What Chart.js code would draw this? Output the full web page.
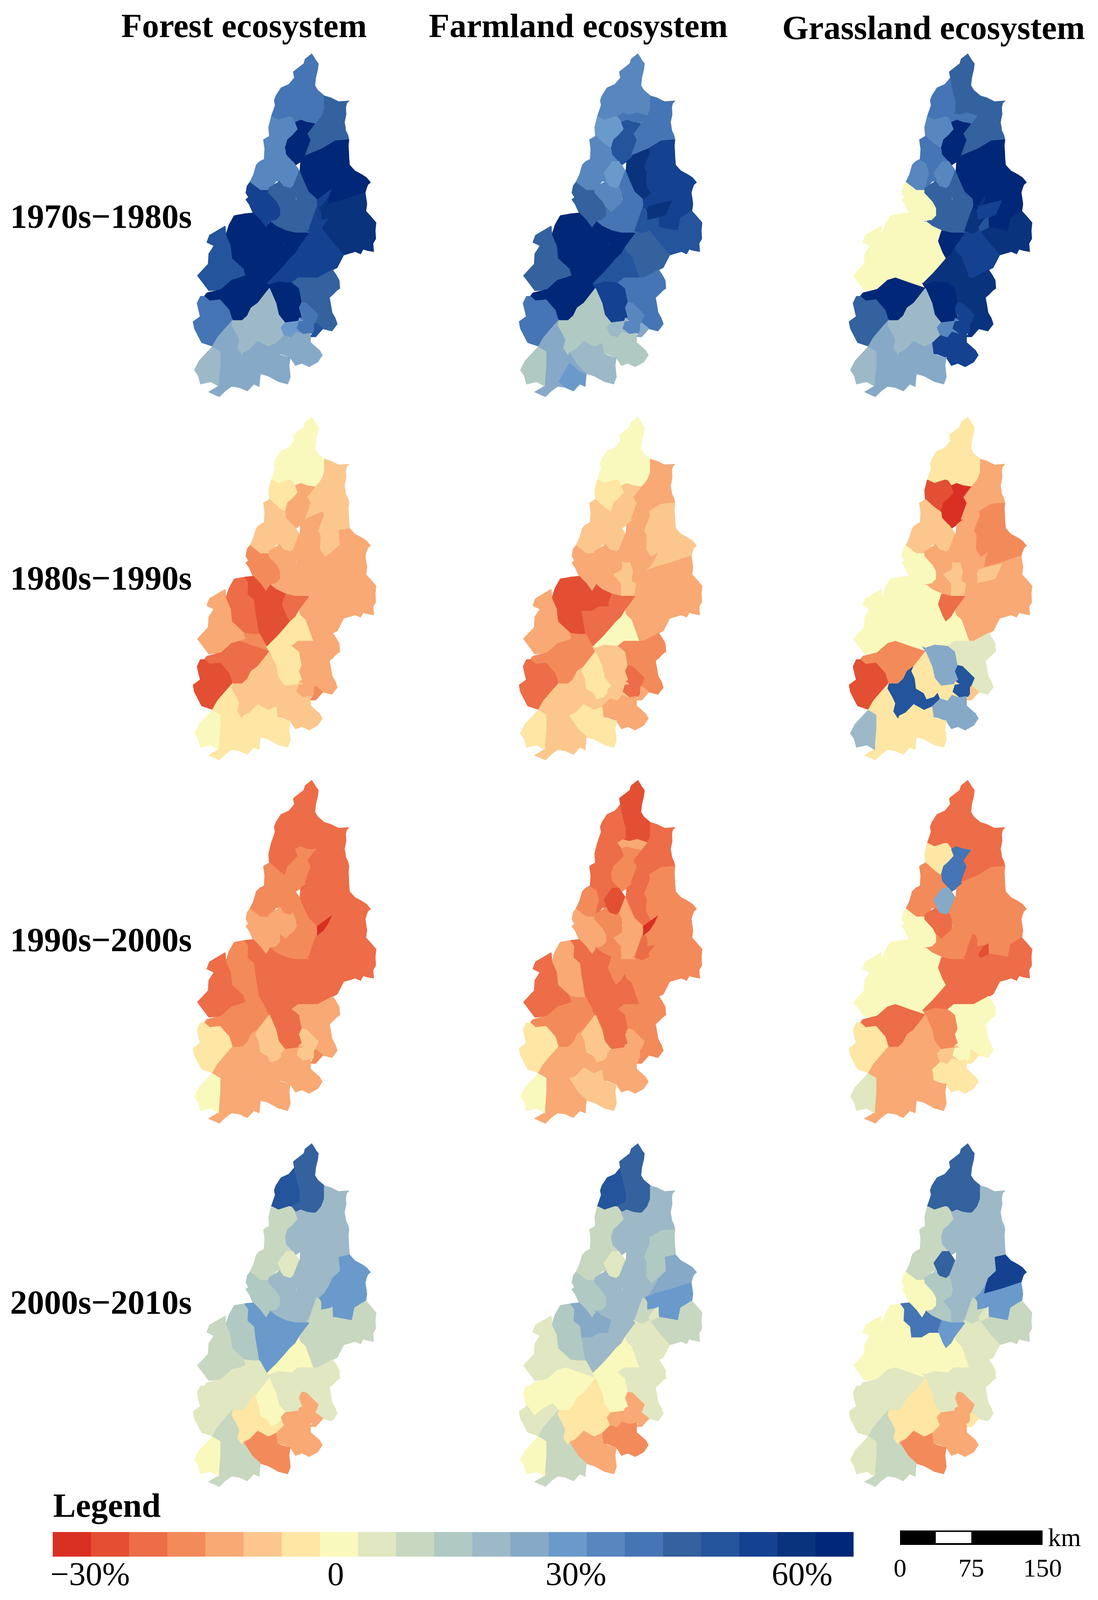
<!DOCTYPE html>
<html>
<head>
<meta charset="utf-8">
<title>Ecosystem change maps</title>
<script src="https://cdn.jsdelivr.net/npm/chart.js@4"></script>
<style>
  html, body { margin: 0; padding: 0; background: #fff; }
  #page { position: relative; width: 2812px; height: 4097px; overflow: hidden; font-family: "Liberation Serif", serif; color: #000; }
  #page canvas { position: absolute; }
  .label { position: absolute; white-space: nowrap; font-size: 87px; font-weight: bold; line-height: 1; }
  .small { position: absolute; white-space: nowrap; font-size: 66px; line-height: 1; }
</style>
</head>
<body>
<div id="page"></div>
<script>
// sub-basin outlines, in map units (x 0-1500, y 0-1560, y pointing down)
const A1 = [[815,125],[835,190],[865,255],[865,300],[800,322],[780,320],[700,335],[645,320],[660,295],[675,270],[668,250],[680,230],[720,195],[780,180],[825,150]];
const A2 = [[815,125],[895,90],[905,70],[955,48],[975,65],[985,75],[1005,90],[1000,115],[985,150],[978,185],[1000,205],[1052,230],[1050,290],[1030,320],[975,345],[920,345],[870,335],[830,345],[800,322],[865,300],[865,255],[835,190]];
const AH = [[790,322],[840,305],[890,312],[950,303],[1030,318],[985,345],[920,345],[870,335],[830,345]];
const B = [[645,320],[700,335],[780,320],[800,322],[830,345],[850,375],[800,410],[770,420],[750,460],[700,440],[630,405],[625,365]];
const C = [[830,345],[870,335],[920,345],[985,350],[925,395],[950,420],[925,490],[870,515],[830,530],[755,485],[750,460],[770,420],[810,400],[850,375]];
const E1 = [[1052,230],[1100,238],[1160,255],[1238,252],[1222,262],[1215,280],[1218,310],[1205,345],[1212,365],[1215,380],[1232,400],[1240,420],[1135,425],[1040,458],[905,490],[950,420],[925,395],[985,350],[1030,320],[1050,290]];
const E2 = [[1240,420],[1235,445],[1238,470],[1240,500],[1245,530],[1165,540],[1175,600],[1060,660],[1015,620],[1020,560],[1000,540],[1045,475],[1040,458],[1135,425]];
const AG = [[905,490],[1040,458],[1045,475],[1000,540],[1020,560],[1015,620],[1060,660],[990,690],[990,677],[930,647],[890,597],[865,555],[870,515],[925,490]];
const F = [[1165,540],[1245,530],[1285,555],[1340,572],[1375,585],[1405,605],[1385,615],[1375,630],[1365,650],[1205,680],[1075,700],[1095,650],[1060,660],[1175,600]];
const G = [[1075,700],[1205,680],[1365,650],[1372,675],[1378,700],[1370,730],[1285,760],[1265,815],[1115,800],[1085,770],[1015,775],[1025,735],[990,690],[1060,660],[1095,650]];
const G0 = [[990,690],[1060,660],[1095,650],[1075,700],[990,715]];
const H = [[1015,740],[1040,710],[1100,700],[1215,685],[1170,745],[1100,760],[1030,775]];
const I = [[1045,820],[1085,770],[1115,800],[1265,815],[1285,760],[1370,730],[1410,755],[1448,780],[1442,815],[1446,850],[1425,870],[1430,905],[1380,900],[1350,895],[1330,915],[1290,905],[1250,912],[1200,920],[1135,880]];
const J = [[965,750],[995,705],[1025,735],[1025,770],[1110,760],[1110,797],[1050,810],[985,830],[925,815]];
const AJ = [[1040,800],[1085,765],[1112,757],[1115,800],[1050,818]];
const K = [[995,682],[1055,657],[1105,637],[1080,667],[1045,697],[1000,717]];
const M = [[630,405],[700,440],[750,460],[755,485],[830,530],[860,555],[830,600],[790,630],[730,625],[735,600],[680,600],[625,645],[560,645],[480,610],[510,570],[530,530],[555,515],[590,505],[595,460],[585,420]];
const M2 = [[480,605],[510,570],[530,530],[555,515],[590,510],[635,525],[655,570],[640,590],[625,645],[560,645]];
const N = [[695,565],[760,515],[810,515],[860,558],[815,615],[775,638],[725,622],[722,600]];
const O = [[460,620],[480,605],[560,640],[625,640],[690,690],[715,720],[715,750],[680,770],[625,775],[605,805],[560,770],[505,738],[475,700],[450,680],[470,670],[450,650]];
const P = [[625,630],[710,600],[735,622],[790,632],[815,620],[835,650],[830,697],[750,737],[715,717],[690,690],[625,650]];
const S = [[625,775],[680,770],[715,750],[715,717],[750,737],[830,697],[840,680],[905,760],[935,777],[920,827],[830,827],[755,815],[680,795],[635,775]];
const Q = [[860,555],[890,597],[930,647],[990,677],[995,705],[965,750],[925,815],[905,760],[915,715],[895,680],[840,680],[835,650],[815,620]];
const R = [[770,730],[835,710],[840,680],[895,680],[915,715],[905,760],[940,770],[925,825],[830,827],[830,770]];
const T1 = [[360,750],[440,742],[470,765],[465,815],[515,840],[535,880],[555,990],[500,990],[435,985],[340,935],[330,880],[295,835],[320,790]];
const T2a = [[440,742],[505,738],[560,770],[605,805],[635,775],[680,795],[755,815],[730,870],[660,870],[600,890],[525,890],[515,840],[465,815],[470,765]];
const T2b = [[525,890],[600,890],[660,870],[730,870],[765,910],[790,935],[745,965],[690,1000],[610,1045],[555,990]];
const T3 = [[755,815],[830,825],[940,825],[900,860],[860,885],[830,915],[790,935],[765,910],[730,860]];
const U = [[290,795],[295,835],[330,880],[340,935],[435,985],[450,1010],[400,1020],[340,1030],[260,1070],[165,1075],[78,1010],[160,960],[165,915],[205,880],[150,865],[170,835]];
const V = [[435,985],[500,990],[555,990],[610,1045],[630,1065],[500,1040],[400,1020],[450,1010]];
const W = [[150,1085],[260,1070],[340,1030],[400,1020],[500,1040],[630,1065],[540,1130],[490,1150],[460,1185],[420,1205],[345,1205],[320,1160],[250,1115],[170,1120],[130,1100]];
const X = [[100,1100],[130,1100],[170,1120],[250,1115],[320,1160],[345,1205],[290,1240],[230,1280],[190,1315],[110,1300],[55,1240],[45,1210],[100,1190],[75,1130]];
const X2 = [[45,1210],[105,1185],[160,1230],[235,1195],[305,1175],[345,1205],[290,1240],[230,1280],[190,1315],[110,1300],[55,1240]];
const Y1 = [[860,885],[870,905],[910,925],[970,1020],[850,1020],[800,1042],[700,1037],[630,1050],[610,1045],[690,1000],[745,965],[790,935],[830,915]];
const Y2 = [[630,1065],[610,1045],[630,1050],[700,1037],[800,1042],[860,1065],[885,1125],[860,1160],[885,1205],[750,1215],[700,1180],[680,1130]];
const AA = [[860,885],[940,825],[925,815],[985,830],[1045,815],[1135,880],[1200,920],[1150,975],[1115,985],[1000,1020],[970,1020],[910,925],[870,905]];
const Z = [[850,1020],[970,1020],[1000,1020],[1115,985],[1140,1005],[1165,1030],[1170,1065],[1145,1075],[1120,1090],[1090,1105],[1100,1135],[1110,1170],[1135,1195],[1150,1220],[1110,1250],[1075,1245],[1040,1240],[985,1215],[1005,1180],[915,1130],[880,1125],[860,1065],[805,1040]];
const AB = [[880,1125],[915,1130],[1005,1180],[975,1220],[975,1255],[945,1262],[890,1265],[835,1240],[860,1195],[885,1190],[860,1150]];
const AC = [[985,1215],[1040,1240],[985,1275],[945,1275],[975,1250],[975,1220]];
const AD1 = [[335,1225],[345,1205],[420,1205],[460,1185],[490,1150],[535,1132],[525,1150],[550,1180],[560,1225],[620,1245],[640,1270],[695,1260],[720,1235],[745,1270],[680,1305],[620,1320],[540,1295],[480,1330],[430,1340],[420,1360],[380,1325],[395,1290],[375,1265]];
const AD2 = [[630,1065],[680,1130],[700,1180],[750,1215],[725,1240],[695,1260],[640,1270],[620,1245],[560,1225],[550,1180],[525,1150],[540,1130]];
const AD3 = [[750,1215],[885,1205],[860,1195],[835,1240],[890,1265],[800,1280],[745,1270],[720,1235]];
const AD4 = [[745,1270],[800,1280],[835,1255],[890,1265],[945,1260],[945,1300],[1015,1335],[1035,1355],[1000,1385],[935,1405],[880,1390],[830,1400],[790,1365],[720,1350],[690,1350],[680,1305]];
const AD5 = [[430,1345],[480,1330],[540,1295],[620,1320],[680,1305],[690,1350],[770,1365],[790,1365],[780,1400],[790,1450],[770,1480],[700,1470],[620,1445],[560,1435],[500,1405]];
const AE = [[230,1280],[290,1240],[345,1205],[335,1225],[375,1265],[395,1290],[380,1325],[420,1360],[430,1345],[500,1405],[560,1435],[550,1490],[510,1480],[460,1510],[400,1495],[340,1490],[290,1510],[245,1535],[165,1515],[240,1490],[240,1470],[250,1400],[250,1340],[190,1320]];
const AI = [[350,1470],[430,1390],[500,1425],[555,1440],[550,1490],[510,1480],[460,1510],[400,1495]];
const AF = [[190,1320],[250,1340],[250,1400],[240,1470],[240,1490],[180,1470],[100,1480],[85,1445],[55,1420],[90,1380]];

// painted in this order, small patches after what they sit on
const basins = [A1,A2,AH,B,C,E1,E2,AG,F,G,G0,H,I,J,AJ,K,M,M2,N,O,P,S,Q,R,T1,T2a,T2b,T3,U,V,W,X,X2,Y1,Y2,AA,Z,AB,AC,AD1,AD2,AD3,AD4,AD5,AE,AI,AF];

// change per basin (%), same order as basins
const forest7080 = [40,40,40,35,65,45,65,65,65,60,60,60,60,55,60,55,35,35,35,55,45,45,45,45,65,65,65,65,50,65,65,40,40,55,65,55,45,40,50,20,20,30,25,25,25,25,20];
const farmland7080 = [35,35,40,30,50,40,55,60,55,55,55,60,50,50,50,55,35,35,30,45,35,40,40,40,65,65,65,65,45,65,65,40,40,50,55,45,40,35,25,15,15,20,15,20,25,30,15];
const grassland7080 = [40,45,40,35,65,45,65,65,65,65,60,55,60,60,50,65,40,35,35,0,45,45,45,45,0,0,0,65,0,0,65,45,45,60,65,55,60,55,60,20,20,35,55,25,25,25,20];
const forest8090 = [0,0,0,-5,-15,-10,-10,-15,-15,-15,-15,-15,-15,-15,-15,-15,-10,-10,-10,-20,-15,-15,-15,-15,-25,-30,-30,-25,-15,-20,-25,-30,-30,-5,-5,-15,-15,-15,-20,-10,-10,-10,-10,-5,-5,-5,0];
const farmland8090 = [0,0,0,-5,-10,-15,-10,-15,-10,-15,-10,-15,-15,-15,-15,-15,-10,-10,-10,-15,-15,-15,-15,-10,-30,-30,-25,-25,-15,-20,-20,-25,-25,0,-10,-15,-20,-25,-15,-10,-5,-10,-15,-5,-10,-10,-5];
const grassland8090 = [-5,-5,-5,-30,-35,-15,-20,-15,-20,-15,-15,-10,-15,-15,-15,-15,-10,-10,-10,0,-15,-15,-15,-10,0,0,0,-25,0,0,-20,-30,-30,0,25,-15,5,50,-10,50,-5,-5,25,-5,-5,-5,20];
const forest9000 = [-25,-25,-25,-25,-20,-25,-25,-25,-25,-25,-25,-25,-25,-25,-25,-35,-20,-20,-20,-15,-15,-20,-20,-20,-20,-25,-25,-25,-25,-20,-20,-5,-5,-25,-25,-25,-15,-10,-20,-15,-10,-15,-15,-15,-15,-15,0];
const farmland9000 = [-25,-30,-15,-25,-20,-25,-20,-25,-20,-20,-20,-20,-20,-25,-20,-35,-25,-20,-30,-15,-20,-20,-15,-15,-15,-25,-25,-20,-25,-20,-20,-5,-5,-25,-25,-20,-20,-15,-20,-15,-10,-15,-15,-10,-15,-15,0];
const grassland9000 = [-25,-25,-25,-5,40,-25,-20,-20,-20,-20,-20,-20,-25,-25,-30,-20,-20,-20,25,0,-25,-20,-20,-20,0,0,0,-25,0,0,-25,-5,-5,-25,-20,-25,0,0,-5,-15,-15,-10,-5,-15,-15,-15,5];
const forest0010 = [50,45,45,10,20,20,20,20,30,30,30,30,10,10,10,20,10,10,5,15,20,20,20,20,15,30,30,30,10,5,5,5,5,0,5,10,5,-15,-15,-5,0,-15,-15,-20,10,10,0];
const farmland0010 = [50,45,45,10,20,20,15,20,25,30,25,30,10,10,5,20,10,10,5,15,20,20,20,20,15,25,20,20,5,5,0,0,5,0,0,5,5,-15,-15,-5,-5,-15,-20,-15,10,10,0];
const grassland0010 = [45,45,45,10,20,20,20,20,55,30,30,30,10,10,5,20,10,10,45,0,15,15,20,20,0,40,0,30,0,0,5,5,5,0,5,5,5,-15,-5,-5,-5,-15,-15,-20,10,10,5];

// colour classes, one per 5% step starting at -35
const classColors = ['#D92F23','#E34F32','#EC6D47','#F38A5A','#F8A974','#FBC78D','#FEE6A5','#F9F9BD','#E1E7C0','#C8D7C0','#B0C9C2','#9DB9C7','#86A9C8','#6A9ACB','#5787BE','#4575B4','#33629F','#23549C','#144291','#0A337D','#012778'];
const legendLabels = ['\u221230%','0','30%','60%'];
const legendTickPos = [0.98,7.42,13.72,19.65];
const scaleSegments = [37.5,37.5,75];
const scaleTicks = [0,75,150];

const columnTitles = ['Forest ecosystem','Farmland ecosystem','Grassland ecosystem'];
const rowTitles = ['1970s\u22121980s','1980s\u22121990s','1990s\u22122000s','2000s\u22122010s'];

const page = document.getElementById('page');

function addCanvas(left, top, width, height) {
  const c = document.createElement('canvas');
  c.width = width;
  c.height = height;
  c.style.left = left + 'px';
  c.style.top = top + 'px';
  c.style.width = width + 'px';
  c.style.height = height + 'px';
  page.appendChild(c);
  return c;
}

function addText(cls, text, x, y, anchor) {
  const d = document.createElement('div');
  d.className = cls;
  d.textContent = text;
  d.style.left = x + 'px';
  d.style.top = y + 'px';
  d.style.transform = anchor === 'c' ? 'translate(-50%,-50%)' : 'translate(0,-50%)';
  page.appendChild(d);
  return d;
}

function drawMap(left, top, values) {
  // Chart.js paints the first dataset last, so reverse to get basins order
  const datasets = basins.map((outline, i) => {
    const color = classColors[(values[i] + 35) / 5];
    return {
      data: outline.concat([outline[0]]).map(p => ({ x: p[0], y: p[1] })),
      showLine: true,
      tension: 0,
      fill: 'shape',
      backgroundColor: color,
      borderColor: color,
      borderWidth: 2,
      pointRadius: 0
    };
  }).reverse();
  new Chart(addCanvas(left, top, 500, 920), {
    type: 'scatter',
    data: { datasets },
    options: {
      responsive: false,
      animation: false,
      devicePixelRatio: 1,
      events: [],
      plugins: { legend: { display: false }, tooltip: { enabled: false } },
      scales: {
        x: { type: 'linear', min: 0, max: 1500, display: false },
        y: { type: 'linear', min: 0, max: 1560, reverse: true, display: false }
      }
    }
  });
}

const columnX = [480, 1315, 2160];
const rowY = [110, 1040, 1970, 2900];
const mapValues = [
  [forest7080, farmland7080, grassland7080],
  [forest8090, farmland8090, grassland8090],
  [forest9000, farmland9000, grassland9000],
  [forest0010, farmland0010, grassland0010]
];
rowY.forEach((y, r) => columnX.forEach((x, c) => drawMap(x, y, mapValues[r][c])));

// titles
[625, 1481, 2391].forEach((x, i) => addText('label', columnTitles[i], x, i === 2 ? 70 : 65, 'c'));
[553, 1479, 2405, 3333].forEach((y, i) => addText('label', rowTitles[i], 26, y, 'l'));
addText('label', 'Legend', 136, 3853, 'l');

// colour legend
new Chart(addCanvas(115, 3922, 2071, 150), {
  type: 'bar',
  data: {
    labels: [''],
    datasets: classColors.map(color => ({ data: [1], backgroundColor: color, barPercentage: 1, categoryPercentage: 1 }))
  },
  options: {
    indexAxis: 'y',
    responsive: false,
    animation: false,
    devicePixelRatio: 1,
    events: [],
    layout: { padding: { left: 20 } },
    plugins: { legend: { display: false }, tooltip: { enabled: false } },
    scales: {
      y: { stacked: true, display: false },
      x: {
        stacked: true,
        min: 0,
        max: classColors.length,
        grid: { display: false },
        border: { display: false },
        afterBuildTicks: s => { s.ticks = legendTickPos.map(value => ({ value })); },
        afterFit: s => { s.height = 87; },
        ticks: {
          autoSkip: false,
          maxRotation: 0,
          padding: 0,
          color: '#000',
          font: { family: 'Liberation Serif', size: 85, lineHeight: 1 },
          callback: (v, i) => legendLabels[i]
        }
      }
    }
  }
});

// scale bar
new Chart(addCanvas(2205, 3918, 565, 147), {
  type: 'bar',
  data: {
    labels: [''],
    datasets: scaleSegments.map((len, i) => ({
      data: [len],
      backgroundColor: i === 1 ? '#fff' : '#000',
      borderColor: '#000',
      borderWidth: i === 1 ? { top: 4, bottom: 5 } : 0,
      borderSkipped: false,
      barPercentage: 1,
      categoryPercentage: 1
    }))
  },
  options: {
    indexAxis: 'y',
    responsive: false,
    animation: false,
    devicePixelRatio: 1,
    events: [],
    layout: { padding: { left: 100, right: 100 } },
    plugins: { legend: { display: false }, tooltip: { enabled: false } },
    scales: {
      y: { stacked: true, display: false },
      x: {
        stacked: true,
        min: 0,
        max: 150,
        grid: { display: false },
        border: { display: false },
        afterBuildTicks: s => { s.ticks = scaleTicks.map(value => ({ value })); },
        afterFit: s => { s.height = 110; },
        ticks: {
          autoSkip: false,
          maxRotation: 0,
          padding: 16,
          color: '#000',
          font: { family: 'Liberation Serif', size: 66, lineHeight: 1.2 }
        }
      }
    }
  }
});
addText('small', 'km', 2684, 3936, 'l');
</script>
</body>
</html>
